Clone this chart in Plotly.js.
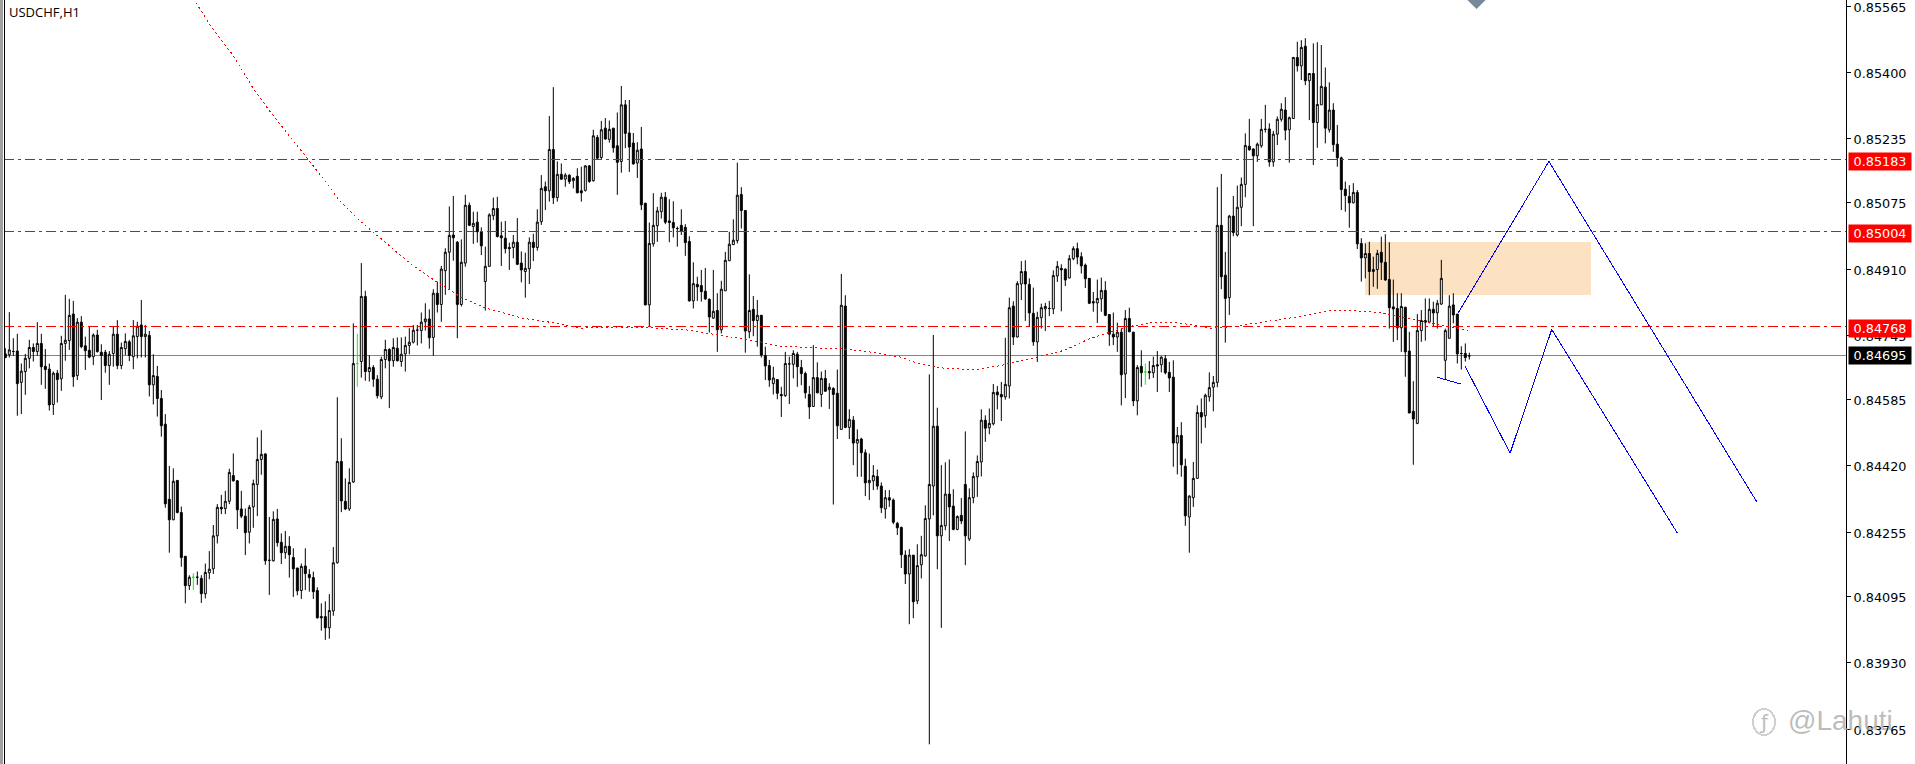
<!DOCTYPE html>
<html><head><meta charset="utf-8">
<script src="https://cdn.plot.ly/plotly-3.0.1.min.js"></script>
<style>html,body{margin:0;padding:0;background:#fff;overflow:hidden}#c{width:1915px;height:764px}
.scatterlayer .js-line{shape-rendering:crispEdges}
.shapelayer path{shape-rendering:crispEdges}
</style>
</head><body><div id="c"></div>
<script>
// USDCHF H1 bars, prices in points (1 point = 0.00001)
const openPts = [
84699,84697,84705,84706,84628,84655,84688,84715,84705,84725,
84668,84661,84573,84651,84637,84725,84732,84798,84645,84778,
84719,84708,84692,84746,84703,84703,84670,84700,84748,84670,
84712,84729,84692,84742,84771,84742,84745,84622,84643,84588,
84524,84337,84286,84384,84304,84195,84122,84143,84143,84140,
84102,84154,84164,84246,84317,84314,84332,84396,84383,84313,
84295,84255,84318,84374,84436,84450,84185,84184,84288,84230,
84204,84220,84192,84166,84110,84171,84150,84142,84110,84045,
84045,84017,84059,84179,84431,84332,84313,84380,84675,84680,
84842,84655,84665,84636,84592,84685,84710,84682,84713,84680,
84699,84720,84728,84758,84757,84779,84786,84740,84850,84822,
84906,84952,84995,84977,84822,84925,85069,85016,85027,85003,
84879,84917,85043,85061,84993,84987,84964,84964,84977,84925,
84904,84911,84977,84964,85028,85115,85105,85208,85088,85146,
85134,85144,85130,85141,85105,85106,85167,85130,85238,85188,
85261,85233,85261,85217,85178,85319,85249,85224,85174,85209,
85074,84821,84973,85018,85053,85089,85030,85026,85011,85019,
85014,84979,84831,84872,84869,84855,84835,84788,84807,84759,
84856,84931,84971,84981,85096,85056,84754,84810,84782,84795,
84695,84670,84625,84635,84598,84595,84674,84673,84698,84665,
84650,84598,84568,84640,84598,84638,84610,84613,84601,84511,
84818,84516,84534,84477,84487,84453,84378,84383,84394,84370,
84313,84341,84335,84277,84267,84198,84151,84198,84084,84174,
84196,84288,84370,84519,84246,84271,84350,84320,84262,84297,
84374,84238,84341,84393,84430,84534,84515,84525,84604,84598,
84592,84619,84818,84741,84873,84904,84872,84800,84729,84789,
84811,84812,84811,84893,84912,84910,84888,84936,84961,84941,
84920,84887,84829,84826,84836,84857,84797,84748,84741,84753,
84649,84787,84753,84582,84668,84654,84655,84652,84672,84672,
84687,84653,84641,84477,84496,84419,84293,84341,84389,84553,
84545,84592,84616,84628,85019,84895,84839,85042,84995,85064,
85121,85216,85209,85192,85217,85258,85259,85177,85246,85283,
85306,85257,85285,85437,85416,85465,85379,85397,85275,85319,
85363,85257,85306,85221,85187,85109,85091,85075,85101,84974,
84938,84949,84904,84909,84952,84927,84884,84816,84812,84764,
84815,84706,84556,84526,84757,84782,84778,84810,84801,84823,
84683,84738,84821,84798,84700,84700,84694];
const closePts = [
84690,84709,84705,84625,84656,84688,84715,84705,84725,84667,
84660,84572,84651,84635,84725,84733,84795,84642,84778,84717,
84707,84691,84746,84705,84695,84670,84698,84748,84670,84715,
84730,84695,84744,84768,84742,84748,84622,84645,84588,84520,
84326,84286,84382,84304,84192,84122,84143,84143,84143,84102,
84155,84163,84246,84317,84313,84332,84404,84383,84311,84295,
84254,84317,84376,84436,84449,84184,84185,84287,84229,84204,
84220,84199,84164,84109,84170,84152,84142,84107,84042,84042,
84017,84060,84179,84431,84333,84313,84379,84675,84675,84842,
84655,84665,84636,84595,84685,84710,84682,84715,84682,84698,
84720,84728,84758,84758,84778,84786,84739,84850,84822,84910,
84952,84994,84988,84822,84927,85069,85019,85024,85003,84968,
84917,85045,85061,84991,84988,84961,84961,84977,84922,84908,
84912,84977,84964,85027,85111,85105,85208,85088,85146,85134,
85144,85128,85136,85100,85100,85167,85128,85242,85186,85257,
85234,85258,85212,85176,85319,85248,85214,85172,85206,85070,
84821,84974,85019,85055,85089,85027,85026,85013,85011,85005,
84976,84831,84874,84866,84854,84836,84791,84805,84759,84860,
84932,84972,84982,85094,85056,84756,84807,84782,84795,84696,
84669,84634,84639,84601,84595,84675,84674,84700,84667,84650,
84602,84567,84640,84602,84638,84606,84616,84598,84520,84820,
84516,84536,84477,84486,84453,84378,84384,84396,84370,84316,
84341,84335,84280,84266,84199,84151,84198,84082,84172,84199,
84289,84374,84519,84246,84272,84350,84318,84262,84294,84283,
84246,84341,84394,84431,84534,84514,84526,84603,84597,84592,
84623,84814,84741,84874,84904,84873,84801,84729,84790,84814,
84817,84812,84894,84917,84908,84883,84936,84961,84940,84918,
84886,84825,84826,84837,84857,84795,84748,84741,84753,84647,
84787,84754,84582,84665,84652,84654,84652,84670,84669,84691,
84652,84639,84477,84496,84423,84296,84345,84389,84553,84542,
84596,84615,84628,85019,84891,84837,85042,85001,85064,85121,
85218,85207,85192,85221,85258,85258,85177,85246,85283,85308,
85256,85287,85437,85416,85462,85379,85397,85275,85320,85365,
85261,85306,85220,85187,85108,85093,85075,85101,84973,84938,
84949,84904,84909,84949,84927,84883,84814,84811,84764,84817,
84704,84552,84537,84757,84782,84778,84810,84801,84825,84887,
84757,84818,84796,84699,84700,84690,84694];
const highPts = [
84713,84803,84738,84749,84675,84699,84734,84725,84778,84749,
84711,84675,84655,84659,84744,84846,84836,84831,84788,84793,
84742,84767,84750,84759,84723,84709,84706,84767,84783,84727,
84750,84734,84783,84779,84833,84771,84756,84698,84669,84609,
84549,84420,84414,84385,84319,84196,84148,84153,84157,84148,
84177,84208,84273,84325,84348,84358,84413,84451,84385,84358,
84314,84323,84386,84491,84509,84451,84293,84307,84313,84252,
84258,84245,84215,84166,84177,84215,84163,84157,84118,84078,
84083,84101,84218,84591,84489,84389,84414,84775,84749,84925,
84856,84696,84671,84646,84692,84734,84713,84738,84740,84740,
84742,84763,84771,84771,84802,84825,84810,84860,84879,84918,
84962,85066,85092,84980,84984,85095,85076,85053,85053,85014,
84966,85049,85088,85090,85028,85030,84976,84995,85037,84954,
84951,84989,84998,85059,85144,85128,85291,85363,85178,85173,
85149,85146,85139,85161,85165,85169,85169,85257,85244,85279,
85286,85280,85261,85300,85366,85331,85331,85249,85226,85264,
85075,85026,85099,85065,85100,85102,85084,85079,85016,85059,
85022,84992,84927,84891,84908,84913,84837,84908,84850,84881,
84953,85003,85034,85175,85114,85056,84897,84843,84833,84796,
84717,84684,84667,84636,84617,84704,84692,84708,84704,84684,
84655,84619,84721,84678,84655,84659,84626,84616,84660,84898,
84845,84561,84544,84511,84490,84461,84451,84422,84411,84379,
84360,84360,84339,84281,84269,84210,84213,84198,84225,84246,
84322,84648,84746,84565,84422,84429,84436,84362,84297,84340,
84506,84364,84404,84446,84561,84546,84563,84624,84619,84629,
84739,84839,84830,84880,84930,84932,84887,84864,84804,84824,
84826,84831,84907,84930,84922,84912,84945,84967,84976,84952,
84924,84888,84853,84884,84889,84880,84798,84802,84777,84762,
84808,84814,84754,84671,84708,84675,84681,84692,84706,84693,
84696,84679,84683,84517,84529,84438,84347,84430,84571,84588,
84600,84653,84644,85114,85147,84953,85045,85092,85118,85138,
85248,85284,85211,85225,85284,85319,85273,85254,85290,85323,
85338,85290,85437,85476,85480,85485,85397,85472,85475,85468,
85412,85375,85323,85269,85190,85128,85119,85124,85107,84987,
84974,84978,84941,84958,84991,84997,84977,84884,84850,84850,
84816,84754,84631,84798,84808,84837,84837,84829,84833,84933,
84762,84845,84850,84798,84718,84725,84702];
const lowPts = [
84688,84690,84694,84545,84549,84597,84663,84680,84694,84622,
84612,84558,84547,84578,84607,84682,84709,84617,84634,84713,
84659,84688,84671,84702,84584,84652,84622,84667,84661,84661,
84696,84681,84661,84688,84690,84690,84593,84573,84543,84493,
84316,84204,84285,84302,84169,84078,84111,84111,84124,84079,
84090,84138,84151,84227,84300,84300,84325,84381,84263,84290,
84198,84227,84266,84295,84398,84174,84099,84182,84219,84176,
84189,84142,84094,84098,84089,84111,84107,84089,84040,84010,
83987,83990,84047,84177,84305,84310,84308,84378,84617,84640,
84632,84630,84617,84588,84586,84663,84564,84667,84680,84667,
84655,84698,84725,84720,84725,84757,84712,84694,84802,84779,
84846,84858,84931,84738,84817,84916,85017,84973,84976,84945,
84807,84916,85032,84989,84918,84949,84908,84937,84920,84877,
84839,84873,84930,84956,85020,85057,85078,85072,85078,85132,
85115,85122,85111,85099,85078,85103,85125,85128,85182,85182,
85232,85225,85200,85095,85150,85211,85152,85170,85137,85057,
84820,84767,84966,84978,85036,85022,84977,84989,84966,84995,
84943,84829,84812,84831,84829,84833,84752,84786,84704,84750,
84856,84930,84970,84974,85011,84702,84738,84743,84717,84690,
84634,84617,84598,84586,84542,84592,84574,84638,84617,84621,
84588,84537,84567,84601,84567,84605,84562,84324,84487,84511,
84514,84487,84422,84393,84393,84345,84335,84360,84361,84303,
84289,84318,84275,84248,84166,84126,84026,84041,84076,84140,
84194,83727,84297,84163,84017,84260,84233,84260,84260,84275,
84173,84233,84327,84343,84394,84480,84499,84521,84561,84532,
84585,84588,84721,84740,84833,84781,84766,84719,84679,84762,
84756,84793,84798,84878,84805,84868,84887,84932,84922,84899,
84863,84823,84804,84776,84804,84793,84719,84721,84704,84571,
84589,84754,84569,84546,84617,84622,84636,84639,84604,84653,
84648,84604,84418,84399,84393,84271,84204,84318,84389,84476,
84515,84580,84556,84616,84860,84727,84796,84992,84991,85017,
85089,85205,85017,85177,85212,85250,85165,85165,85219,85277,
85231,85175,85285,85402,85381,85368,85281,85169,85212,85319,
85223,85250,85202,85165,85057,85053,85013,85074,84960,84879,
84887,84845,84866,84861,84883,84881,84762,84729,84733,84704,
84642,84551,84423,84524,84729,84732,84775,84768,84762,84821,
84635,84737,84775,84675,84660,84680,84685];
// doji bars drawn in green
const greenBars = [47, 88, 285];

// moving average, read at these bar positions
const maBars = [47.7,51.7,56.9,61.9,65.9,71.2,75.7,80.4,83.4,88.4,91.4,96.7,101.7,107.9,113.9,120.2,129.2,137.4,143.7,153.2,160,171,180.2,189.2,193.4,209.7,215.9,223.9,228,234.2,242.4,248.4,255.7,264.8,270.9,280.2,286.2,293.7,301.2,306.2,314.4,322.9,331.1,337.9,344.4,350.4,356.1,365.7];
const maPts = [85573,85510,85443,85361,85306,85239,85182,85124,85082,85032,85007,84962,84920,84878,84840,84813,84788,84776,84763,84766,84765,84758,84743,84728,84718,84711,84704,84691,84676,84664,84659,84669,84686,84708,84736,84766,84776,84776,84763,84766,84778,84791,84806,84806,84801,84788,84776,84758];

// hand-drawn projection lines
const upLegBars = [363.2,385.9,437.9];   const upLegPts = [84801,85178,84330];
const downLegBars = [364.9,376.2,386.6,418.0]; const downLegPts = [84669,84452,84760,84253];
const stubBars = [357.9,363.9];          const stubPts = [84641,84624];
const zoneBars = [339.9,396.4];          const zonePts = [84846,84977];
const markerBar = 367.8;

const levels = [0.85183,0.85004,0.84768];
const bidPrice = 0.84695;
const tickVals = [0.85565,0.85400,0.85235,0.85075,0.84910,0.84745,0.84585,0.84420,0.84255,0.84095,0.83930,0.83765];
const yRange = [0.83678,0.85580];
const xRange = [-0.33,460.17];
const symbolTitle = 'USDCHF,H1';
const watermark = '@Lahuti';

const px = a => a.map(v => v/100000);
const idx = openPts.map((_,i)=>i);
const plain = idx.filter(i=>!greenBars.includes(i));
const pick = (a,ids) => ids.map(i=>a[i]/100000);
const tickFont = {family:'"DejaVu Sans",sans-serif',size:12.8,color:'#000'};

const candle = (ids,color) => ({
  type:'candlestick', x:ids,
  open:pick(openPts,ids), high:pick(highPts,ids), low:pick(lowPts,ids), close:pick(closePts,ids),
  whiskerwidth:0, showlegend:false, hoverinfo:'skip',
  increasing:{line:{color:color,width:1},fillcolor:'#ffffff'},
  decreasing:{line:{color:color,width:1},fillcolor:color}
});
const line = (xs,ys,color,dash) => ({type:'scatter',mode:'lines',x:xs,y:px(ys),
  line:{color:color,width:1,dash:dash||'solid'},showlegend:false,hoverinfo:'skip'});

const traces = [
  candle(plain,'#000000'),
  candle(greenBars,'#00ff00'),
  line(maBars,maPts,'#ff0000','2px,3px'),
  line(upLegBars,upLegPts,'#0000ff'),
  line(downLegBars,downLegPts,'#0000ff'),
  line(stubBars,stubPts,'#0000ff'),
  {type:'scatter',mode:'markers',x:[markerBar],y:[yRange[1]],showlegend:false,hoverinfo:'skip',
   marker:{symbol:'diamond',size:14,color:'#778899'}}
];

const shapes = [
  {type:'rect',layer:'below',xref:'x',yref:'y',x0:zoneBars[0],x1:zoneBars[1],y0:zonePts[0]/1e5,y1:zonePts[1]/1e5,
   fillcolor:'#fce2c2',line:{width:0}},
  {type:'line',layer:'below',xref:'paper',x0:0,x1:1,yref:'y',y0:bidPrice,y1:bidPrice,line:{color:'#778899',width:1}},
  ...levels.map(v=>({type:'line',layer:'above',xref:'paper',x0:0,x1:1,yref:'y',y0:v,y1:v,
     line:{color:'#ff0000',width:1,dash:'10px,4px,3px,4px'}})),
  {type:'line',xref:'paper',x0:0,x1:0,yref:'paper',y0:0,y1:1,line:{color:'#000',width:1}},
  {type:'rect',xref:'paper',yref:'paper',x0:-4/1842,x1:-1.5/1842,y0:0,y1:1,fillcolor:'#a0a0a0',line:{width:0}},
  {type:'circle',xref:'paper',yref:'paper',x0:(1753-4)/1842,x1:(1775-4)/1842,y0:1-735/764,y1:1-709/764,
   line:{color:'#cfcfcf',width:2}}
];

const priceBox = (v,bg,shift) => ({
  xref:'paper',x:1,xanchor:'left',xshift:2,yref:'y',y:v,yanchor:'middle',yshift:shift,
  text:v.toFixed(5),showarrow:false,bgcolor:bg,width:62,height:17,borderpad:0,align:'center',
  font:{family:tickFont.family,size:12.8,color:'#fff'}
});

const annotations = [
  ...levels.map(v=>priceBox(v,'#ff0000',-2)),
  priceBox(bidPrice,'#000000',0),
  {xref:'paper',yref:'paper',x:4/1842,y:1-2/764,xanchor:'left',yanchor:'top',showarrow:false,text:symbolTitle,
   font:{family:'"Open Sans",sans-serif',size:13,color:'#000'},borderpad:0},
  {xref:'paper',yref:'paper',x:(1764-4)/1842,y:1-722/764,xanchor:'center',yanchor:'middle',showarrow:false,text:'ƒ',
   font:{family:'"DejaVu Sans",sans-serif',size:20,color:'#bdbdbd'}},
  {xref:'paper',yref:'paper',x:(1786-4)/1842,y:1-720/764,xanchor:'left',yanchor:'middle',showarrow:false,text:watermark,
   font:{family:'"Liberation Sans",sans-serif',size:28,color:'rgba(170,170,170,0.8)'}}
];

const layout = {
  width:1915,height:764,margin:{l:4,r:69,t:0,b:0,pad:0},
  paper_bgcolor:'#fff',plot_bgcolor:'#fff',showlegend:false,hovermode:false,dragmode:false,
  xaxis:{type:'linear',range:xRange,visible:false,rangeslider:{visible:false},fixedrange:true},
  yaxis:{type:'linear',range:yRange,side:'right',showgrid:false,zeroline:false,showline:true,linecolor:'#000',linewidth:1,
         ticks:'outside',ticklen:4,tickcolor:'#000',tickwidth:1,tickmode:'array',tickvals:tickVals,ticklabeloverflow:'allow',
         ticklabelshift:1,ticktext:tickVals.map(v=>v.toFixed(5)),tickfont:tickFont,fixedrange:true,automargin:false},
  shapes,annotations
};
Plotly.newPlot('c',traces,layout,{displayModeBar:false,staticPlot:true});
</script></body></html>
